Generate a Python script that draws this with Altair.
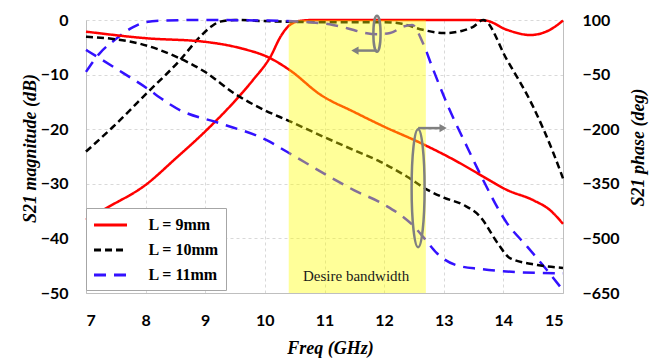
import altair as alt
import pandas as pd

series = ["L = 9mm", "L = 10mm", "L = 11mm"]
colors = ["#FF0000", "#000000", "#3311FF"]

# ---- S21 magnitude (dB) ----
mag9_f = [7.0, 7.35, 8.0, 8.5, 9.0, 9.5, 9.8, 10.1, 10.26, 10.42, 10.6, 10.8, 11.5, 12.5, 13.4, 13.7, 14.06, 14.45, 14.78, 15.0]
mag9_db = [-36.6, -34.4, -30.2, -25.4, -20.4, -14.8, -11.0, -6.6, -3.1, -0.9, -0.15, 0, 0, 0, 0, -0.1, -1.8, -2.75, -1.8, -0.1]

mag10_f = [7.0, 7.45, 8.02, 8.58, 8.91, 9.1, 9.25, 9.5, 10.0, 11.0, 12.0, 12.3, 12.65, 13.0, 13.3, 13.5, 13.66, 14.06, 14.5, 14.84, 15.0]
mag10_db = [-24.1, -19.6, -13.4, -7.3, -3.1, -1.2, -0.3, 0, -0.2, -0.4, -0.4, -0.7, -1.8, -2.4, -2.0, -1.2, 0, -7.3, -15.9, -24.4, -29.0]

mag11_f = [7.0, 7.23, 7.5, 7.79, 8.0, 8.3, 9.0, 10.0, 10.6, 11.14, 11.38, 11.65, 11.9, 12.1, 12.32, 12.47, 12.65, 12.82, 13.1, 13.39, 13.66, 14.06, 14.4, 14.73, 15.0]
mag11_db = [-9.5, -6.1, -3.5, -1.3, -0.4, -0.1, 0, -0.1, -0.3, -0.9, -1.5, -2.3, -2.6, -2.4, -1.2, -0.9, -4.2, -9.0, -16.5, -23.2, -29.3, -37.2, -41.5, -45.8, -49.5]

# ---- S21 phase (deg) ----
ph9_f = [7.0, 8.0, 9.0, 9.58, 10.09, 10.42, 10.93, 11.5, 12.0, 12.6, 13.27, 13.66, 14.06, 14.5, 14.78, 15.0]
ph9_deg = [68, 50, 40, 23, -5, -38, -105, -153, -193, -237, -293, -330, -367, -395, -422, -460]

ph10_f = [7.0, 7.5, 7.9, 8.5, 9.0, 9.5, 10.0, 10.4, 11.0, 11.5, 11.93, 12.38, 12.72, 13.0, 13.33, 13.61, 13.9, 14.11, 14.57, 15.0]
ph10_deg = [54, 47, 35, 0, -43, -103, -148, -177, -222, -258, -289, -330, -366, -388, -408, -440, -512, -554, -573, -581]

ph11_f = [7.0, 7.5, 7.9, 8.58, 9.25, 10.03, 10.37, 11.09, 11.5, 12.0, 12.5, 12.72, 12.88, 13.22, 13.61, 14.28, 15.0]
ph11_deg = [18, -33, -74, -148, -184, -230, -262, -331, -368, -407, -467, -509, -540, -574, -584, -593, -596]

# ---- axis ticks ----
x_ticks = [7, 8, 9, 10, 11, 12, 13, 14, 15]
mag_ticks = [0, -10, -20, -30, -40, -50]
ph_ticks = [100, -50, -200, -350, -500, -650]

# ---- annotations (data units) ----
band_lo, band_hi = [10.4], [12.7]
band_text = ["Desire bandwidth"]
band_text_f, band_text_db = [11.53], [-46.9]
ell_top_f, ell_top_db = [11.88], [-2.5]
ell_bot_f, ell_bot_db = [12.57], [-30.8]
arr_top_f1, arr_top_f2, arr_top_db = [11.88], [11.51], [-5.6]
arr_bot_f1, arr_bot_f2, arr_bot_db = [12.57], [12.99], [-19.8]


def frame(fs, vs, name):
    return pd.DataFrame({"freq": fs, "val": vs, "series": name})


mag_df = pd.concat([frame(mag9_f, mag9_db, series[0]),
                    frame(mag10_f, mag10_db, series[1]),
                    frame(mag11_f, mag11_db, series[2])])
ph_df = pd.concat([frame(ph9_f, ph9_deg, series[0]),
                   frame(ph10_f, ph10_deg, series[1]),
                   frame(ph11_f, ph11_deg, series[2])])

xscale = alt.Scale(domain=[7, 15], nice=False, zero=False)
magscale = alt.Scale(domain=[-50, 0], nice=False, zero=False)
phscale = alt.Scale(domain=[-650, 100], nice=False, zero=False)

legend = alt.Legend(
    title=None, orient="none", legendX=0, legendY=188,
    symbolType="M-2,0L2,0", symbolSize=272, symbolStrokeWidth=3,
    symbolOffset=7.5, labelOffset=28,
    labelFont="Liberation Serif", labelFontSize=16, labelFontWeight="bold", labelColor="black",
    padding=7, rowPadding=7, strokeColor="#a6a6a6", fillColor="white", cornerRadius=0,
)
color = alt.Color("series:N", scale=alt.Scale(domain=series, range=colors), legend=legend)
dash = alt.StrokeDash("series:N", scale=alt.Scale(domain=series, range=[[1, 0], [7, 4], [12, 8]]), legend=legend)

tick_font = dict(labelFont="Lato", labelFontWeight="bold", labelFontSize=16, labelColor="black",
                 ticks=False, tickSize=0, domainColor="#bfbfbf", domainWidth=1,
                 titleFont="Liberation Serif", titleFontStyle="italic", titleFontWeight="bold",
                 titleFontSize=18, titleColor="black", gridColor="#d9d9d9", gridDash=[3, 3], gridWidth=1)

x_axis = alt.Axis(values=x_ticks, title="Freq (GHz)", grid=True, labelPadding=19, orient="bottom",
                  titleX=244, titleY=60, titleBaseline="alphabetic", titleAlign="center", **tick_font)
mag_axis = alt.Axis(values=mag_ticks, title="S21 magnitude (dB)", grid=True, orient="left", labelPadding=18,
                    titleX=-51, titleY=128, titleAngle=270, titleBaseline="alphabetic", titleAlign="center",
                    **tick_font)
ph_axis = alt.Axis(values=ph_ticks, title="S21 phase (deg)", grid=False, orient="right", labelPadding=19,
                   titleX=80, titleY=127, titleAngle=270, titleBaseline="alphabetic", titleAlign="center",
                   **tick_font)

X = alt.X("freq:Q", scale=xscale, axis=x_axis, title="Freq (GHz)")

mag_lines = alt.Chart(mag_df).mark_line(strokeWidth=2.5, interpolate="monotone").encode(
    x=X,
    y=alt.Y("val:Q", scale=magscale, axis=mag_axis),
    color=color, strokeDash=dash, order=alt.Order("freq:Q"),
)
ph_lines = alt.Chart(ph_df).mark_line(strokeWidth=2.5, interpolate="monotone").encode(
    x=X,
    y=alt.Y("val:Q", scale=phscale, axis=ph_axis),
    color=color, strokeDash=dash, order=alt.Order("freq:Q"),
)

band_df = pd.DataFrame({"freq": band_lo, "hi": band_hi, "bot": [-50], "top": [0]})
band = alt.Chart(band_df).mark_rect(color="#FFFF00", opacity=0.4).encode(
    x=X, x2="hi:Q",
    y=alt.Y("bot:Q", scale=magscale, axis=None), y2="top:Q",
)

text_df = pd.DataFrame({"freq": band_text_f, "val": band_text_db, "label": band_text})
band_label = alt.Chart(text_df).mark_text(font="Liberation Serif", fontSize=15, color="#1a1a1a").encode(
    x=X,
    y=alt.Y("val:Q", scale=magscale, axis=None),
    text="label:N",
)

grey = "#808080"
ell_top = alt.Chart(pd.DataFrame({"freq": ell_top_f, "val": ell_top_db})).mark_point(
    shape="M0,-1A0.2,1,0,1,1,0,1A0.2,1,0,1,1,0,-1Z", size=1296, filled=False,
    stroke=grey, strokeWidth=2.5, opacity=1).encode(
    x=X, y=alt.Y("val:Q", scale=magscale, axis=None))
ell_bot = alt.Chart(pd.DataFrame({"freq": ell_bot_f, "val": ell_bot_db})).mark_point(
    shape="M0,-1A0.11,1,0,1,1,0,1A0.11,1,0,1,1,0,-1Z", size=13924, filled=False,
    stroke=grey, strokeWidth=2.5, opacity=1).encode(
    x=X, y=alt.Y("val:Q", scale=magscale, axis=None))

arr_df = pd.DataFrame({"freq": arr_top_f1 + arr_bot_f1, "f2": arr_top_f2 + arr_bot_f2,
                       "val": arr_top_db + arr_bot_db})
arrows = alt.Chart(arr_df).mark_rule(color=grey, strokeWidth=2.5).encode(
    x=X, x2="f2:Q",
    y=alt.Y("val:Q", scale=magscale, axis=None))
head_l = alt.Chart(pd.DataFrame({"freq": arr_top_f2, "val": arr_top_db})).mark_point(
    shape="triangle-left", size=70, filled=True, color=grey, opacity=1).encode(
    x=X, y=alt.Y("val:Q", scale=magscale, axis=None))
head_r = alt.Chart(pd.DataFrame({"freq": arr_bot_f2, "val": arr_bot_db})).mark_point(
    shape="triangle-right", size=70, filled=True, color=grey, opacity=1).encode(
    x=X, y=alt.Y("val:Q", scale=magscale, axis=None))

chart = alt.layer(mag_lines, ph_lines, band, band_label, ell_top, ell_bot, arrows, head_l, head_r).resolve_scale(
    y="independent"
).properties(
    width=477, height=273,
    padding={"left": 86, "top": 20, "right": 91, "bottom": 70},
    autosize=alt.AutoSizeParams(type="none"),
    background="white",
).configure_view(stroke=None)

chart.save("out.html", embed_options={"renderer": "svg", "actions": False})
